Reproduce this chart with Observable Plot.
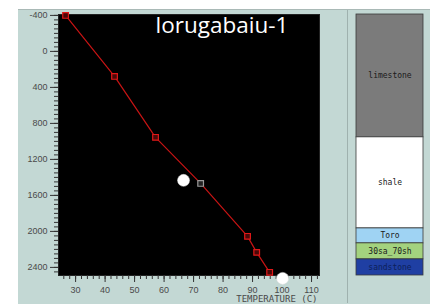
<!DOCTYPE html>
<html><head><meta charset="utf-8">
<script src="https://cdn.jsdelivr.net/npm/d3@7"></script>
<script src="https://cdn.jsdelivr.net/npm/@observablehq/plot@0.6"></script>
<style>
html,body{margin:0;padding:0;background:#fff;}
#wrap{position:relative;width:430px;height:307px;overflow:hidden;background:#fff;}
#panel{position:absolute;left:18px;top:9px;width:412px;height:294px;background:#c3d8d4;border-top:1px solid #a9b9b6;}
#divider{position:absolute;left:347px;top:10px;width:1px;height:293px;background:#9fb1ae;}
#main,#litho{position:absolute;top:0;}
#main{left:0;}
#litho{left:348px;}
svg{background:transparent !important;}
</style></head>
<body>
<div id="wrap"><div id="panel"></div><div id="divider"></div><div id="main"></div><div id="litho"></div></div>
<script>
// Temperature-depth profile (red squares joined by a line)
const profileTemp  = [26.6, 43.2, 57.1, 72.4, 88.3, 91.4, 95.8];
const profileDepth = [-400, 278, 955, 1467, 2055, 2233, 2455];
const profileKind  = ["red", "red", "red", "grey", "red", "red", "red"];
// Measured temperatures (white circles)
const measTemp  = [66.6, 100.2];
const measDepth = [1433, 2522];
// Lithology column
const lithName   = ["limestone", "shale", "Toro", "30sa_70sh", "sandstone"];
const lithTop    = [-410, 955, 1967, 2133, 2311];
const lithBottom = [955, 1967, 2133, 2311, 2490];
// Axis ticks
const yTicks = [-400, 0, 400, 800, 1200, 1600, 2000, 2400];
const xTicks = [30, 40, 50, 60, 70, 80, 90, 100, 110];
const title = "lorugabaiu-1";
const xLabel = "TEMPERATURE (C)";

const yDomain = [-410, 2490];
const xDomain = [24.2, 112.7];

const profile = profileTemp.map((t, i) => ({t, d: profileDepth[i], k: profileKind[i]}));
const meas = measTemp.map((t, i) => ({t, d: measDepth[i]}));
const lith = lithName.map((n, i) => ({n, top: lithTop[i], bot: lithBottom[i]}));

const axisFont = {fontFamily: "'Liberation Sans', 'DejaVu Sans', sans-serif", fontSize: 9, fill: "#4a4a4a"};
const plain = d => String(d);

const main = Plot.plot({
  width: 347, height: 307,
  marginLeft: 58, marginRight: 28, marginTop: 14, marginBottom: 32,
  style: {background: "transparent", fontFamily: "'Liberation Sans', sans-serif"},
  x: {domain: xDomain},
  y: {domain: yDomain, reverse: true},
  marks: [
    Plot.frame({fill: "black", stroke: "#222"}),
    Plot.axisY({ticks: d3.range(-400, 2490, 50), tickSize: 4, text: null, stroke: "#333", label: null}),
    Plot.axisY({ticks: yTicks, tickSize: 8, tickPadding: 3, tickFormat: plain, stroke: "#333", label: null, ...axisFont}),
    Plot.axisX({ticks: d3.range(26, 113, 2), tickSize: 4, text: null, stroke: "#333", label: null}),
    Plot.axisX({ticks: xTicks, tickSize: 7, tickPadding: 4, tickFormat: plain, stroke: "#333", label: null, ...axisFont}),
    Plot.text([xLabel], {frameAnchor: "bottom-right", dx: -2, dy: 24, lineAnchor: "middle", textAnchor: "end",
      fill: "#4a4a4a", fontSize: 9, fontFamily: "'DejaVu Sans Mono', monospace"}),
    Plot.line(profile, {x: "t", y: "d", stroke: "#c81414", strokeWidth: 1.2}),
    Plot.dot(profile.filter(p => p.k === "red"), {x: "t", y: "d", symbol: "square", r: 3.2, stroke: "#e01818", strokeWidth: 1.2, fill: "#4a0808"}),
    Plot.dot(profile.filter(p => p.k === "grey"), {x: "t", y: "d", symbol: "square", r: 3.2, stroke: "#9a9a9a", strokeWidth: 1.2, fill: "#222"}),
    Plot.dot(meas, {x: "t", y: "d", r: 6, fill: "white", stroke: "#ddd", strokeWidth: 0.5, clip: false}),
    Plot.text([title], {frameAnchor: "top", dx: 33, dy: 3, lineAnchor: "top", fill: "white",
      fontSize: 22.5, fontFamily: "'Open Sans', 'Noto Sans', sans-serif"})
  ]
});
document.getElementById("main").appendChild(main);

const litho = Plot.plot({
  width: 82, height: 307,
  marginLeft: 8, marginRight: 7, marginTop: 14, marginBottom: 32,
  style: {background: "transparent"},
  x: {domain: [0, 1], axis: null},
  y: {domain: yDomain, reverse: true, axis: null},
  color: {domain: lithName, range: ["#7b7b7b", "#ffffff", "#9fd3f3", "#a3d27e", "#1f3fa3"]},
  marks: [
    Plot.rect(lith, {x1: 0, x2: 1, y1: "top", y2: "bot", fill: "n", stroke: "#3a3a3a", strokeWidth: 0.8}),
    Plot.text(lith, {x: 0.5, y: d => (d.top + d.bot) / 2, text: "n",
      fill: d => d.n === "sandstone" ? "#0d1f5a" : "#1a1a1a",
      fontSize: 8, fontFamily: "'DejaVu Sans Mono', monospace"})
  ]
});
document.getElementById("litho").appendChild(litho);
</script>
</body></html>
